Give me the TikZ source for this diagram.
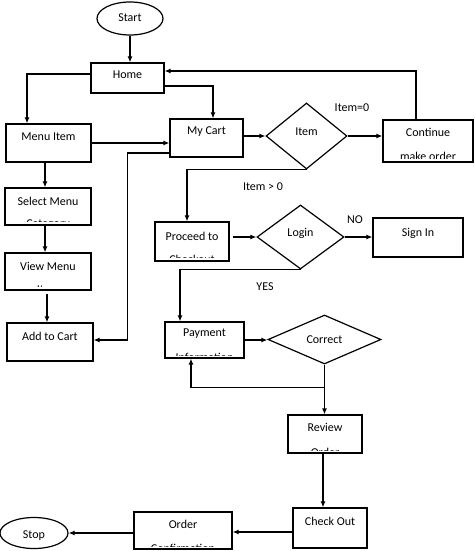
\documentclass[tikz,border=0pt]{standalone}
\usepackage{fontspec}
\setmainfont{Carlito}
\usetikzlibrary{arrows.meta,shapes.geometric,calc}
\tikzset{
  box/.style={draw=black, line width=1.2pt, rectangle, inner sep=0pt},
  dia/.style={draw=black, line width=1.2pt, diamond, inner sep=0pt},
  oval/.style={draw=black, line width=1.2pt, ellipse, inner sep=0pt},
  lbl/.style={inner sep=0pt, font=\fontsize{12}{14}\selectfont},
  conn/.style={line width=1.2pt, -{Latex[length=6pt,width=5pt]}},
}
\begin{document}
\begin{tikzpicture}[x=1pt,y=-1pt]
\useasboundingbox (0,0) rectangle (474,551);

% terminals
\node[oval, minimum width=66pt, minimum height=33pt] (start) at (130,18.5) {};
\node[lbl] (start-t) at (130,18) {Start};
\node[oval, minimum width=68pt, minimum height=31pt] (stop) at (34,533) {};
\node[lbl] (stop-t) at (34,536) {Stop};

% boxes
\node[box, minimum width=73pt, minimum height=30pt] (home) at (127.5,78) {};
\node[lbl] (home-t) at (127.5,75) {Home};

\node[box, minimum width=85pt, minimum height=38pt] (menu) at (48.5,143) {};
\node[lbl] (menu-t) at (48.5,137) {Menu Item};

\node[box, minimum width=73pt, minimum height=38pt] (cart) at (206.5,138) {};
\node[lbl] (cart-t) at (206.5,132) {My Cart};

\node[box, minimum width=86pt, minimum height=37pt] (sel) at (48,206.5) {};
\node[lbl] (sel-t) at (48,201) {Select Menu};
\begin{scope}
  \clip (5,188) rectangle (91,221);
  \node[lbl] (sel-t2) at (48,225) {Category};
\end{scope}

\node[box, minimum width=86pt, minimum height=37pt] (view) at (48,271.5) {};
\node[lbl] (view-t) at (48,266) {View Menu};
\begin{scope}
  \clip (5,253) rectangle (91,286);
  \node[lbl] (view-t2) at (48,290) {Item};
\end{scope}

\node[box, minimum width=86pt, minimum height=38pt] (add) at (50,342) {};
\node[lbl] (add-t) at (50,336) {Add to Cart};

\node[box, minimum width=90pt, minimum height=42pt] (cont) at (428,141) {};
\node[lbl] (cont-t) at (428,132) {Continue};
\begin{scope}
  \clip (383,120) rectangle (473,158);
  \node[lbl] (cont-t2) at (428,156) {make order};
\end{scope}

\node[box, minimum width=74pt, minimum height=39pt] (proc) at (192,241.5) {};
\node[lbl] (proc-t) at (192,236) {Proceed to};
\begin{scope}
  \clip (155,222) rectangle (229,257);
  \node[lbl] (proc-t2) at (192,259) {Checkout};
\end{scope}

\node[box, minimum width=90pt, minimum height=39pt] (sign) at (418,237.5) {};
\node[lbl] (sign-t) at (418,233) {Sign In};

\node[box, minimum width=79pt, minimum height=36pt] (pay) at (204.5,340) {};
\node[lbl] (pay-t) at (204.5,334) {Payment};
\begin{scope}
  \clip (165,322) rectangle (244,355);
  \node[lbl] (pay-t2) at (204.5,357) {Information};
\end{scope}

\node[box, minimum width=74pt, minimum height=38pt] (review) at (325,434) {};
\node[lbl] (review-t) at (325,427) {Review};
\begin{scope}
  \clip (288,415) rectangle (362,450);
  \node[lbl] (review-t2) at (325,452) {Order};
\end{scope}

\node[box, minimum width=74pt, minimum height=40pt] (check) at (330,528) {};
\node[lbl] (check-t) at (330,521) {Check Out};

\node[box, minimum width=98pt, minimum height=37pt] (order) at (183,530.5) {};
\node[lbl] (order-t) at (183,524) {Order};
\begin{scope}
  \clip (134,512) rectangle (232,546);
  \node[lbl] (order-t2) at (183,548) {Confirmation};
\end{scope}

% decisions
\node[dia, minimum width=81pt, minimum height=66pt] (item) at (306.5,136) {};
\node[lbl] (item-t) at (306.5,132) {Item};
\node[dia, minimum width=87pt, minimum height=64pt] (login) at (300.5,237) {};
\node[lbl] (login-t) at (300.5,233) {Login};
\node[dia, minimum width=113pt, minimum height=49pt] (correct) at (324.5,339.5) {};
\node[lbl] (correct-t) at (324.5,340) {Correct};

% edge labels
\node[lbl] (l-item0) at (352,108) {Item=0};
\node[lbl] (l-itemg) at (263,187) {Item > 0};
\node[lbl] (l-no) at (355,220) {NO};
\node[lbl] (l-yes) at (265,287) {YES};

% connectors
\draw[conn] (start.south) -- (start.south |- home.north);
\draw[conn] ([yshift=4pt]home.west) -| ([xshift=-21.5pt]menu.north);
\draw[conn] ([yshift=-8pt]home.east) -| ([xshift=6.5pt]cart.north);
\draw[conn] (menu.east) -- (menu.east -| cart.west);
\draw[conn] ([yshift=-15pt]cart.west) -- ++(-42,0) |- ([yshift=2pt]add.east);
\draw[conn] ([xshift=-3.5pt]menu.south) -- ([xshift=-3pt]sel.north);
\draw[conn] ([xshift=-3pt]sel.south) -- ([xshift=-3pt]view.north);
\draw[conn] ([xshift=-1pt,yshift=-3pt]view.south) -- ([xshift=-3pt]add.north);
\draw[conn] (item.west -| cart.east) -- (item.west);
\draw[conn] (item.east) -- (item.east -| cont.west);
\draw[conn] ([xshift=-12pt]cont.north) |- ([yshift=7pt]home.east);
\draw[conn] (item.south) -| ([xshift=-5pt]proc.north);
\draw[conn] ([xshift=3pt]login.west -| proc.east) -- (login.west);
\draw[conn] (login.east) -- (login.east -| sign.west);
\draw[conn] (login.south) -| ([xshift=-24.5pt]pay.north);
\draw[conn] (pay.east) -- (pay.east -| correct.west);
\draw[conn] (correct.south) -- (correct.south |- review.north);
\coordinate (split) at ([yshift=-23pt]correct.south);
\draw[conn] (split) -| ([xshift=-13.5pt]pay.south);
\draw[conn] ([xshift=-2pt]review.south) -- ([xshift=-7pt]check.north);
\draw[conn] ([yshift=-4pt]check.west) -- ([yshift=-1.5pt]order.east);
\draw[conn] ([yshift=-2.5pt]order.west) -- (stop.east);
\end{tikzpicture}
\end{document}
